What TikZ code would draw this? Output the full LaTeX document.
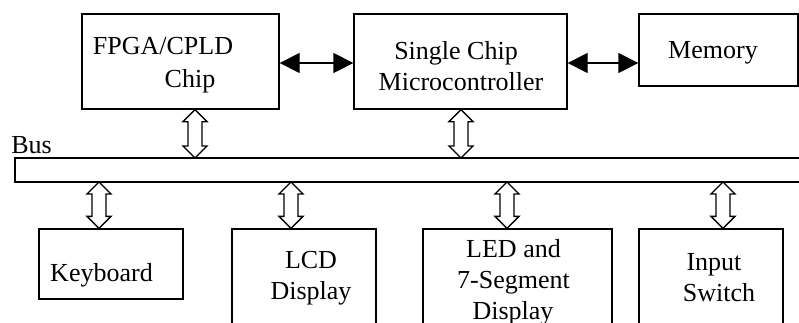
\documentclass[tikz,border=0pt]{standalone}
\usepackage{fontspec}
\setmainfont{Liberation Serif}
\usetikzlibrary{arrows.meta,calc}
\newcommand\hollowdbl[2]{%
  \draw[hollow] let \p1=(#1), \p2=(#2) in
    (\x1,\y1) -- (\x1-12pt,\y1-12pt) -- (\x1-7pt,\y1-12pt) -- (\x1-7pt,\y2+12pt)
    -- (\x1-12pt,\y2+12pt) -- (\x1,\y2) -- (\x1+12pt,\y2+12pt) -- (\x1+7pt,\y2+12pt)
    -- (\x1+7pt,\y1-12pt) -- (\x1+12pt,\y1-12pt) -- cycle;}
\tikzset{
  box/.style={draw, line width=1.3pt, inner sep=0pt, fill=white},
  txt/.style={inner sep=0pt, anchor=base, font=\fontsize{26}{31}\selectfont},
  hollow/.style={draw, line width=1.3pt, fill=white, line join=miter},
  blk/.style={line width=1.3pt, {Triangle[length=20pt,width=20pt]}-{Triangle[length=20pt,width=20pt]}}
}
\begin{document}
\begin{tikzpicture}[x=1pt,y=-1pt]
\useasboundingbox (0,0) rectangle (799,322);
% boxes
\node[box, minimum width=197pt, minimum height=95pt] (fpga) at (180.5,61.5) {};
\node[box, minimum width=213pt, minimum height=95pt] (single) at (460.5,61.5) {};
\node[box, minimum width=159pt, minimum height=72pt] (mem) at (718.5,50) {};
\node[box, minimum width=800pt, minimum height=24pt] (bus) at (415,170) {};
\node[box, minimum width=144pt, minimum height=70pt] (kbd) at (111,264) {};
\node[box, minimum width=144pt, minimum height=120pt] (lcd) at (304,289) {};
\node[box, minimum width=189pt, minimum height=120pt] (led) at (517.5,289) {};
\node[box, minimum width=144pt, minimum height=120pt] (inp) at (711,289) {};
% texts
\node[txt] (t1) at (163,54) {FPGA/CPLD};
\node[txt] (t2) at (190,87) {Chip};
\node[txt] (t3) at (456,59) {Single Chip};
\node[txt] (t4) at (461,90) {Microcontroller};
\node[txt] (t5) at (713,58) {Memory};
\node[txt] (t6) at (31.5,153) {Bus};
\node[txt] (t7) at (101.5,281) {Keyboard};
\node[txt] (t8) at (311,268) {LCD};
\node[txt] (t9) at (311,299) {Display};
\node[txt] (t10) at (513.5,257) {LED and};
\node[txt] (t11) at (513.5,288) {7-Segment};
\node[txt] (t12) at (513,319) {Display};
\node[txt] (t13) at (714,270) {Input};
\node[txt] (t14) at (719,301) {Switch};
% black arrows
\coordinate (af) at ($(fpga.east)+(0,1.5)$);
\coordinate (as) at ($(single.east)+(0,1.5)$);
\draw[blk] (af) -- (af -| single.west);
\draw[blk] (as) -- (as -| mem.west);
% hollow arrows
\coordinate (bf) at (195,158);
\coordinate (bs) at (461,158);
\coordinate (bk) at (99,182);
\coordinate (bl) at (291,182);
\coordinate (be) at (507,182);
\coordinate (bi) at (723,182);
\hollowdbl{bf |- fpga.south}{bf}
\hollowdbl{bs |- single.south}{bs}
\hollowdbl{bk}{bk |- kbd.north}
\hollowdbl{bl}{bl |- lcd.north}
\hollowdbl{be}{be |- led.north}
\hollowdbl{bi}{bi |- inp.north}
\end{tikzpicture}
\end{document}
